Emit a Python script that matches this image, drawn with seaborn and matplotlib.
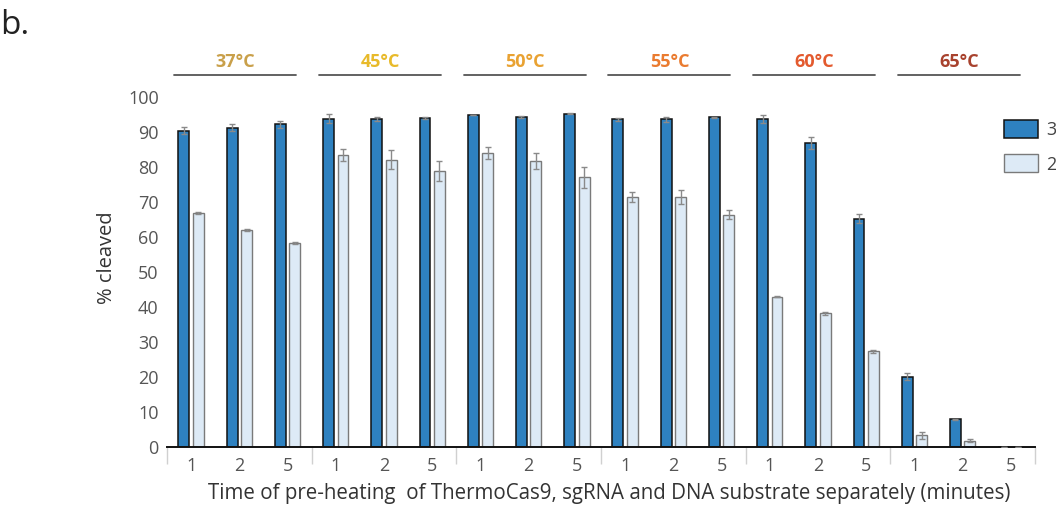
import numpy as np
import pandas as pd
import seaborn as sns
import matplotlib
matplotlib.use("Agg")
import matplotlib.pyplot as plt
import matplotlib.transforms as mtransforms

# data
temps = ['37°C', '45°C', '50°C', '55°C', '60°C', '65°C']
temp_colors = ['#C9A04A', '#E8BA2A', '#E9A232', '#EA7B30', '#E35A2E', '#A8422E']
times = ['1', '2', '5']
series = ['3', '2']

dark_vals = [90.5, 91.3, 92.3, 93.9, 93.8, 94.0, 94.9, 94.3, 95.3,
             93.7, 93.7, 94.3, 93.8, 86.9, 65.3, 20.2, 8.0, 0.0]
dark_err = [1.0, 1.0, 1.0, 1.2, 0.6, 0.3, 0.1, 0.3, 0.2,
            0.5, 0.8, 0.1, 1.2, 1.8, 1.3, 1.0, 0.2, 0.0]
light_vals = [66.9, 62.1, 58.4, 83.4, 82.2, 79.0, 84.1, 81.8, 77.1,
              71.4, 71.6, 66.5, 43.0, 38.3, 27.4, 3.5, 1.9, 0.0]
light_err = [0.2, 0.4, 0.3, 1.7, 2.8, 2.8, 1.6, 2.3, 3.1,
             1.4, 2.0, 1.2, 0.1, 0.5, 0.5, 1.0, 0.5, 0.0]

# long table for seaborn
cats = [t + ' ' + m for t in temps for m in times]
df = pd.DataFrame({
    'cond': cats * 2,
    'series': [series[0]] * len(cats) + [series[1]] * len(cats),
    'cleaved': dark_vals + light_vals,
    'err': dark_err + light_err,
})

sns.set_style("white")
plt.rcParams['font.family'] = ['Open Sans', 'DejaVu Sans']

fig = plt.figure(figsize=(10.56, 5.17), dpi=100)
ax = fig.add_axes([167 / 1056, 69.7 / 517, 868 / 1056, 350 / 517])

dark_c = '#2E81C0'
light_c = '#DDEAF6'
sns.barplot(data=df, x='cond', y='cleaved', hue='series', order=cats,
            hue_order=series, palette={series[0]: dark_c, series[1]: light_c},
            width=0.6, gap=0.25, saturation=1, errorbar=None, legend=False, ax=ax)

edge_styles = [('#111111', 1.1), ('#7a7a7a', 1.0)]
for cont, (ec, lw), s in zip(ax.containers, edge_styles, series):
    sub = df[df['series'] == s].set_index('cond').loc[cats]
    xs, ys = [], []
    for bar in cont.patches:
        bar.set_edgecolor(ec)
        bar.set_linewidth(lw)
        xs.append(bar.get_x() + bar.get_width() / 2)
        ys.append(bar.get_height())
    ax.errorbar(xs, ys, yerr=sub['err'].values, fmt='none', ecolor='#8a8a8a',
                elinewidth=1.0, capsize=2.5, capthick=1.0, zorder=3)

ax.set_xlim(-0.5, len(cats) - 0.5)
ax.set_ylim(0, 100)
ax.set_yticks(range(0, 101, 10))
ax.set_xticks(range(len(cats)))
ax.set_xticklabels(times * len(temps))
ax.set_xticks(np.arange(-0.5, len(cats), 3), minor=True)
ax.tick_params(axis='x', which='major', bottom=False, length=0, pad=7,
               labelsize=13, labelcolor='#555555')
ax.tick_params(axis='x', which='minor', bottom=True, length=12, width=1.0,
               color='#d0d0d0', direction='out')
ax.tick_params(axis='y', length=0, pad=6, labelsize=13, labelcolor='#555555')

for side in ['left', 'right', 'top']:
    ax.spines[side].set_visible(False)
ax.spines['bottom'].set_color('#111111')
ax.spines['bottom'].set_linewidth(1.4)

ax.set_xlabel('Time of pre-heating  of ThermoCas9, sgRNA and DNA substrate separately (minutes)',
              fontsize=14.8, color='#333333')
ax.xaxis.set_label_coords(0.51, -0.103)
ax.set_ylabel('% cleaved', fontsize=14.5, color='#333333')
ax.yaxis.set_label_coords(-0.058, 0.541)

# temperature headers above each group
trans = mtransforms.blended_transform_factory(ax.transData, ax.transAxes)
for i, (t, c) in enumerate(zip(temps, temp_colors)):
    x0 = 3 * i - 0.5
    ax.plot([x0 + 0.15, x0 + 2.68], [1.065, 1.065], transform=trans,
            color='#555555', lw=1.3, clip_on=False)
    ax.text(x0 + 1.42, 1.10, t, transform=trans, ha='center', va='center',
            fontsize=13, fontweight='bold', color=c)

# legend, cut off by the right edge as in the original
ax.legend(handles=ax.containers, labels=series, frameon=False, loc='upper left',
          bbox_to_anchor=(1004 / 1056, 397 / 517), bbox_transform=fig.transFigure,
          fontsize=13, handlelength=1.9, handleheight=1.15, labelspacing=0.85,
          handletextpad=0.45, borderaxespad=0, borderpad=0, labelcolor='#444444')

fig.text(0.0, 0.95, 'b.', fontsize=24, color='#222222', va='center', ha='left')

fig.savefig('out.png', dpi=100)
